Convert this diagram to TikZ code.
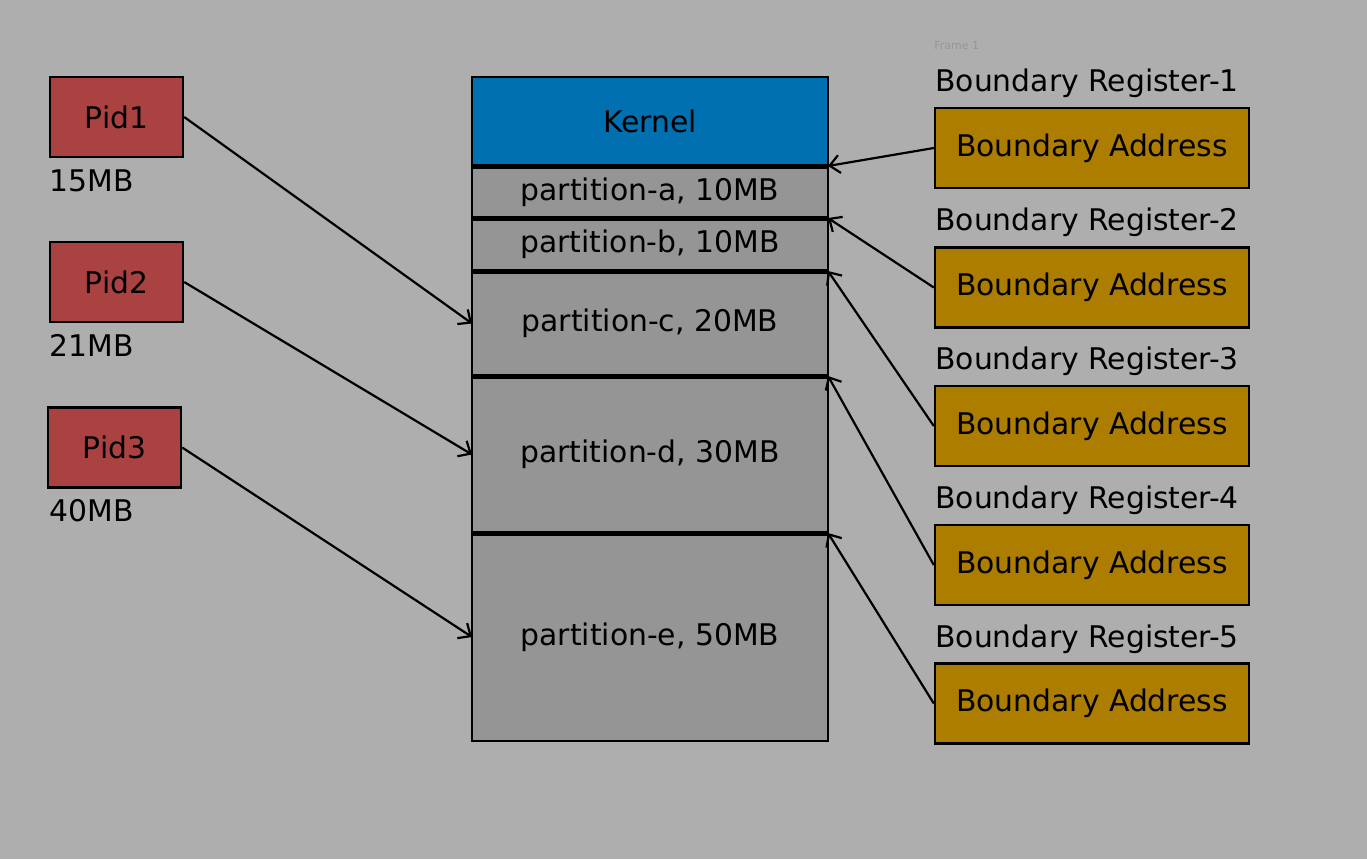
\documentclass[tikz,border=0pt]{standalone}
\usepackage{fontspec}
\setmainfont{DejaVu Sans}
\usepackage{xcolor}
\usepackage{tikz}
\usetikzlibrary{arrows.meta,positioning}
\definecolor{bgcol}{RGB}{174,174,174}
\definecolor{pidred}{RGB}{170,66,66}
\definecolor{kernblue}{RGB}{0,112,176}
\definecolor{partgray}{RGB}{149,149,149}
\definecolor{reggold}{RGB}{173,125,0}
\definecolor{framegray}{RGB}{150,150,150}
\tikzset{
  txt/.style ={font=\fontsize{14.9}{17}\selectfont},
  pid/.style ={rectangle,draw,line width=1.2pt,fill=pidred,minimum width=66.5pt,minimum height=40pt,inner sep=0pt,txt},
  part/.style={rectangle,draw,line width=1.2pt,fill=partgray,minimum width=178pt,inner sep=0pt,outer sep=0pt,txt},
  kern/.style={part,fill=kernblue},
  reg/.style ={rectangle,draw,line width=1.2pt,fill=reggold,minimum width=157pt,minimum height=40pt,inner sep=0pt,txt},
  lbl/.style ={anchor=base west,inner sep=0pt,txt},
  sepline/.style={line width=2.5pt},
  ar/.style={-{Straight Barb[length=5pt,width=9pt]},line width=1.1pt},
}
\begin{document}
\begin{tikzpicture}[x=0.5pt,y=-0.5pt]
  \fill[bgcol] (0,0) rectangle (1367,859);
  \node[anchor=base west,inner sep=0pt,text=framegray,font=\fontsize{5.5}{6}\selectfont] (frame) at (934,49){Frame 1};
  % processes
  \node[pid] (pid1) at (116.5,117){Pid1};
  \node[pid] (pid2) at (116.5,282){Pid2};
  \node[pid] (pid3) at (114.5,447.5){Pid3};
  \node[lbl] (s1) at (49,191){15MB};
  \node[lbl] (s2) at (49,356){21MB};
  \node[lbl] (s3) at (49,521){40MB};
  % memory
  \node[kern,minimum height=44.5pt] (kern) at (650,121.5){Kernel};
  \node[part,minimum height=26pt]   (pa) at (650,192){partition-a, 10MB};
  \node[part,minimum height=26.5pt] (pb) at (650,244.5){partition-b, 10MB};
  \node[part,minimum height=52.5pt] (pc) at (650,323.5){partition-c, 20MB};
  \node[part,minimum height=78.5pt] (pd) at (650,454.5){partition-d, 30MB};
  \node[part,minimum height=104pt]  (pe) at (650,637){partition-e, 50MB};
  \draw[sepline] (kern.south west) -- (kern.south east);
  \draw[sepline] (pa.south west) -- (pa.south east);
  \draw[sepline] (pb.south west) -- (pb.south east);
  \draw[sepline] (pc.south west) -- (pc.south east);
  \draw[sepline] (pd.south west) -- (pd.south east);
  % registers
  \node[lbl] (l1) at (935,91){Boundary Register-1};
  \node[lbl] (l2) at (935,230){Boundary Register-2};
  \node[lbl] (l3) at (935,369){Boundary Register-3};
  \node[lbl] (l4) at (935,508){Boundary Register-4};
  \node[lbl] (l5) at (935,647){Boundary Register-5};
  \node[reg] (r1) at (1092,148){Boundary Address};
  \node[reg] (r2) at (1092,287.5){Boundary Address};
  \node[reg] (r3) at (1092,426){Boundary Address};
  \node[reg] (r4) at (1092,565){Boundary Address};
  \node[reg] (r5) at (1092,703.5){Boundary Address};
  \draw[ar] (pid1.east) -- (pc.west);
  \draw[ar] (pid2.east) -- (pd.west);
  \draw[ar] (pid3.east) -- (pe.west);
  \draw[ar] (r1.west) -- (kern.south east);
  \draw[ar] (r2.west) -- (pa.south east);
  \draw[ar] (r3.west) -- (pb.south east);
  \draw[ar] (r4.west) -- (pc.south east);
  \draw[ar] (r5.west) -- (pd.south east);
\end{tikzpicture}
\end{document}
